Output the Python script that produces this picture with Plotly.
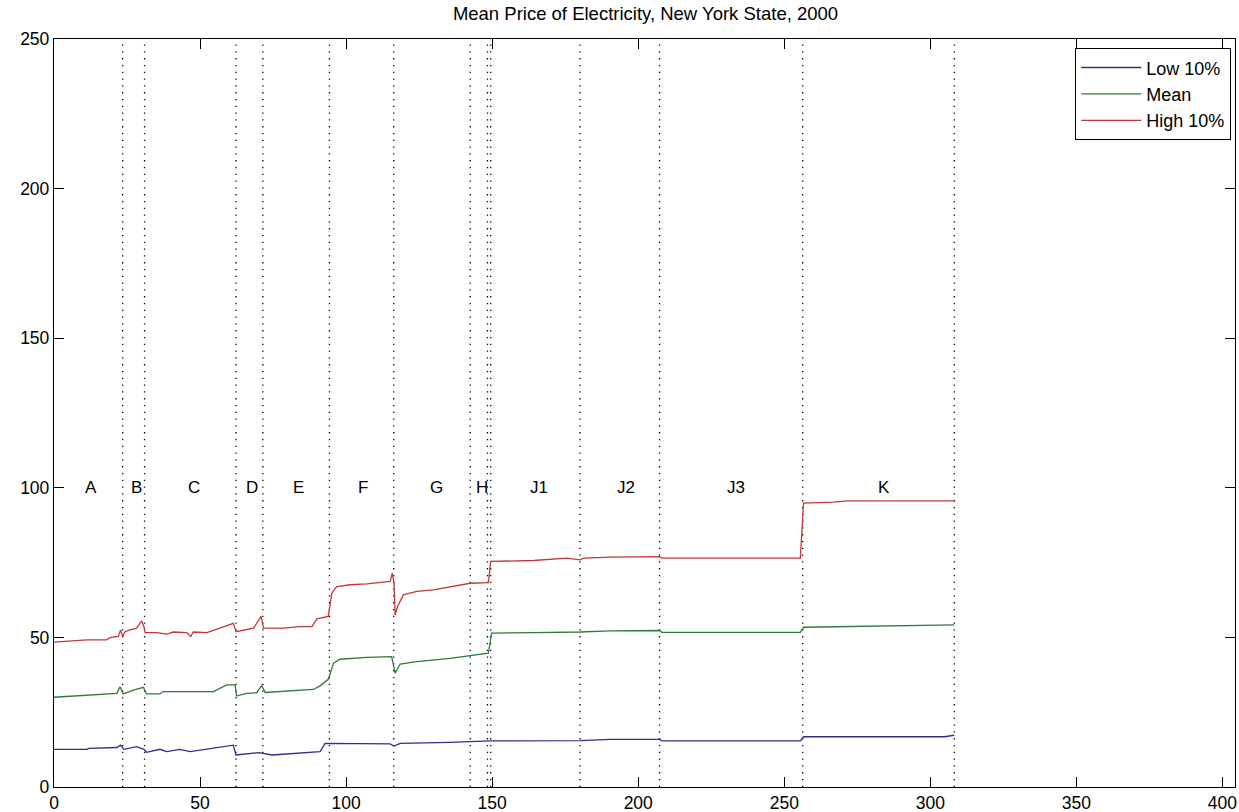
import plotly.graph_objects as go

# ---- data ----
high_x = [0, 3.2, 11.2, 18.0, 19.2, 22.0, 22.8, 23.5, 24.3, 26.0, 28.3, 30.0, 30.8, 31.2, 35.2, 38.6,
          40.9, 45.4, 46.8, 47.7, 52.3, 56.8, 61.4, 62.3, 63.7, 68.3, 70.9, 71.7, 78.5, 84.2, 88.3,
          90.0, 93.9, 95.1, 96.8, 101.4, 107.1, 115.1, 115.8, 116.4, 116.8, 117.6, 119.6, 124.2,
          129.9, 135.6, 142.5, 148.7, 149.5, 164.1, 175.6, 180.1, 181.3, 190.4, 207.3, 208.1,
          255.5, 256.6, 266.9, 271.5, 289.7, 308.2]
high_y = [48.4, 48.6, 49.2, 49.2, 49.9, 50.3, 52.5, 50.3, 51.9, 52.5, 53.1, 55.5, 53.6, 51.6, 51.6, 51.1,
          51.8, 51.6, 50.3, 51.8, 51.6, 53.1, 54.7, 51.9, 52.2, 53.1, 57.0, 53.1, 53.1, 53.6, 53.6,
          56.2, 57.0, 64.8, 67.0, 67.6, 67.9, 68.7, 71.5, 68.3, 57.5, 60.3, 64.2, 65.4,
          65.9, 67.0, 68.1, 68.3, 75.4, 75.7, 76.5, 75.9, 76.5, 76.8, 77.0, 76.5,
          76.5, 94.9, 95.2, 95.6, 95.6, 95.6]

mean_x = [0, 15.8, 21.5, 22.6, 23.7, 27.2, 30.6, 31.7, 36.3, 37.4, 54.6, 59.1, 62.0, 62.5, 66.0, 69.4,
          71.1, 72.3, 78.5, 84.2, 88.8, 91.1, 93.9, 95.7, 97.9, 107.1, 115.6, 116.8, 118.5, 124.2,
          135.6, 148.7, 149.8, 164.1, 180.1, 190.4, 207.3, 208.1, 255.5, 256.6, 289.7, 308.2]
mean_y = [30.0, 30.8, 31.3, 33.5, 31.1, 32.4, 33.3, 31.1, 31.1, 31.9, 31.9, 34.1, 34.1, 30.4, 31.3, 31.5,
          33.9, 31.6, 31.9, 32.2, 32.6, 33.8, 36.0, 41.4, 42.7, 43.3, 43.6, 38.0, 41.1, 41.9,
          43.0, 44.7, 51.4, 51.6, 51.8, 52.2, 52.3, 51.7, 51.7, 53.4, 53.8, 54.2]

low_x = [0, 11.2, 12.0, 21.5, 22.8, 23.9, 28.3, 30.8, 31.7, 36.3, 38.6, 43.1, 46.6, 52.3, 61.4, 62.3,
         70.2, 74.7, 84.2, 91.1, 92.8, 101.4, 115.1, 116.4, 118.5, 135.6, 149.1, 180.1, 190.4,
         207.3, 208.1, 255.5, 256.6, 304.8, 308.2]
low_y = [12.6, 12.6, 12.9, 13.2, 14.0, 12.6, 13.5, 12.6, 11.6, 12.6, 11.8, 12.6, 11.8, 12.6, 14.0, 10.7,
         11.5, 10.7, 11.4, 11.8, 14.6, 14.6, 14.4, 13.7, 14.6, 14.9, 15.4, 15.5, 15.9,
         15.9, 15.4, 15.4, 16.8, 16.8, 17.3]

boundaries = [23.5, 31.0, 62.3, 71.5, 94.3, 116.3, 142.5, 148.4, 149.5, 180.1, 207.3, 256.3, 308.2]

region_labels = ["A", "B", "C", "D", "E", "F", "G", "H", "J1", "J2", "J3", "K"]
region_label_x = [12.6, 28.3, 48.0, 67.9, 83.7, 105.9, 131.1, 146.5, 166.2, 195.9, 233.6, 284.0]
region_label_y = 100

x_ticks = [0, 50, 100, 150, 200, 250, 300, 350, 400]
y_ticks = [0, 50, 100, 150, 200, 250]

FONT = "Liberation Sans, Arial, sans-serif"

fig = go.Figure()

# dotted region boundaries
bx, by = [], []
for b in boundaries:
    bx += [b, b, None]
    by += [0, 250, None]
fig.add_trace(go.Scatter(x=bx, y=by, mode="lines", showlegend=False, hoverinfo="skip",
                         line=dict(color="black", width=1.3, dash="1.3px,5.5px")))

fig.add_trace(go.Scatter(x=low_x, y=low_y, mode="lines", name="Low 10%",
                         line=dict(color="#2e2e8c", width=1.3)))
fig.add_trace(go.Scatter(x=mean_x, y=mean_y, mode="lines", name="Mean",
                         line=dict(color="#2f7a3a", width=1.3)))
fig.add_trace(go.Scatter(x=high_x, y=high_y, mode="lines", name="High 10%",
                         line=dict(color="#c23838", width=1.3)))

for lab, lx in zip(region_labels, region_label_x):
    fig.add_annotation(x=lx, y=region_label_y, text=lab, showarrow=False,
                       xanchor="center", yanchor="middle",
                       font=dict(family=FONT, size=17, color="black"))

axis_common = dict(showline=True, linecolor="black", linewidth=1.3, mirror="ticks",
                   ticks="inside", ticklen=10, tickcolor="black", tickwidth=1.3,
                   showgrid=False, zeroline=False, automargin=False,
                   tickfont=dict(family=FONT, size=17.5, color="black"))

fig.update_layout(
    width=1239, height=812,
    margin=dict(l=54, r=4, t=39, b=25),
    paper_bgcolor="white", plot_bgcolor="white",
    title=dict(text="Mean Price of Electricity, New York State, 2000",
               x=0.521, xanchor="center",
               y=1 - 14 / 812, yanchor="middle",
               font=dict(family=FONT, size=18.5, color="black")),
    xaxis=dict(range=[0, 404.3], tickvals=x_ticks, **axis_common),
    yaxis=dict(range=[0, 250], tickvals=y_ticks, **axis_common),
    legend=dict(x=0.9966, xanchor="right", y=0.988, yanchor="top",
                bgcolor="white", bordercolor="black", borderwidth=1.3,
                font=dict(family=FONT, size=18, color="black"),
                itemwidth=60, tracegroupgap=0),
    showlegend=True,
)

fig.write_html("out.html",
               config={"displayModeBar": False},
               post_script="document.body.style.margin='0';document.body.style.overflow='hidden';")
